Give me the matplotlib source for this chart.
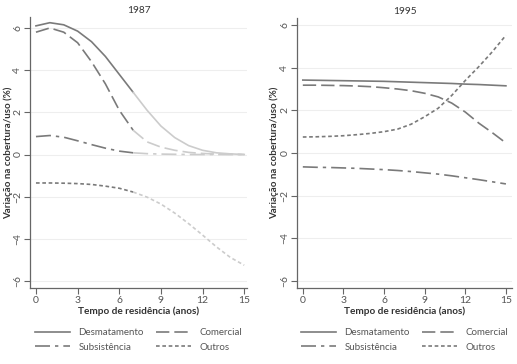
import numpy as np
import matplotlib
matplotlib.use('Agg')
from matplotlib import pyplot as plt

plt.rcParams['font.family'] = ['Lato', 'DejaVu Sans']

anos = [0, 1, 2, 3, 4, 5, 6, 7, 8, 9, 10, 11, 12, 13, 14, 15]

# 1987
desm_87 = [6.1, 6.25, 6.15, 5.85, 5.35, 4.65, 3.8, 2.95, 2.1, 1.35, 0.8, 0.42, 0.2, 0.08, 0.03, 0.0]
com_87 = [5.8, 6.0, 5.8, 5.3, 4.4, 3.35, 2.1, 1.15, 0.6, 0.35, 0.2, 0.1, 0.05, 0.02, 0.01, 0.0]
sub_87 = [0.85, 0.9, 0.82, 0.65, 0.47, 0.3, 0.16, 0.08, 0.04, 0.02, 0.01, 0.0, 0.0, 0.0, 0.0, 0.0]
out_87 = [-1.35, -1.35, -1.36, -1.38, -1.42, -1.5, -1.6, -1.78, -2.02, -2.35, -2.78, -3.28, -3.82, -4.38, -4.88, -5.25]

# 1995
desm_95 = [3.42, 3.41, 3.4, 3.39, 3.38, 3.37, 3.36, 3.34, 3.32, 3.3, 3.28, 3.26, 3.23, 3.21, 3.18, 3.15]
com_95 = [3.18, 3.18, 3.17, 3.16, 3.14, 3.11, 3.06, 3.0, 2.92, 2.8, 2.63, 2.34, 1.92, 1.4, 0.95, 0.47]
sub_95 = [-0.65, -0.67, -0.68, -0.7, -0.72, -0.75, -0.78, -0.82, -0.87, -0.93, -0.99, -1.07, -1.16, -1.25, -1.35, -1.45]
out_95 = [0.75, 0.76, 0.78, 0.81, 0.86, 0.92, 1.0, 1.12, 1.35, 1.7, 2.1, 2.7, 3.4, 4.05, 4.75, 5.52]

corte_87 = 7  # after this year the 1987 curves are drawn lighter

nomes = ['Desmatamento', 'Comercial', 'Subsistência', 'Outros']
estilos = ['-', (0, (8, 3)), (0, (9, 3, 2, 3)), (0, (2.2, 1.6))]
escuro = '#7a7a7a'
claro = '#cccccc'

fig = plt.figure(figsize=(5.17, 3.64), dpi=100)
ax1 = fig.add_axes([30/517, 1-288/364, 217/517, 271/364])
ax2 = fig.add_axes([297/517, 1-288/364, 215/517, 270/364])

def base(ax, titulo, ymax, xmax, ylab_x):
    ax.set_xlim(-0.43, xmax)
    ax.set_ylim(-6.33, ymax)
    ax.set_xticks([0, 3, 6, 9, 12, 15])
    ax.set_yticks([-6, -4, -2, 0, 2, 4, 6])
    ax.tick_params(axis='y', labelrotation=90, colors='#666666', labelcolor='#555555',
                   labelsize=7.5, length=4, width=0.8, pad=1.5)
    ax.tick_params(axis='x', colors='#666666', labelcolor='#555555',
                   labelsize=7.5, length=4, width=0.8, pad=2)
    for lab in ax.get_yticklabels():
        lab.set_va('center')
    for s in ['top', 'right']:
        ax.spines[s].set_visible(False)
    for s in ['left', 'bottom']:
        ax.spines[s].set_color('#666666')
        ax.spines[s].set_linewidth(0.9)
    ax.grid(axis='y', color='#eeeeee', linewidth=0.8)
    ax.set_axisbelow(True)
    ax.set_title(titulo, fontsize=7.3, color='#333333', pad=3)
    ax.set_xlabel('Tempo de residência (anos)', fontsize=7.2, fontweight='bold',
                  color='#333333', labelpad=1)
    ax.set_ylabel('Variação na cobertura/uso (%)', fontsize=7, fontweight='bold',
                  color='#333333')
    ax.yaxis.set_label_coords(ylab_x, 0.5)

base(ax1, '1987', 6.52, 15.2, -0.08)
base(ax2, '1995', 6.33, 15.45, -0.085)

x = np.array(anos)
for serie, ls in zip([desm_87, com_87, sub_87, out_87], estilos):
    y = np.array(serie)
    ax1.plot(x[:corte_87 + 1], y[:corte_87 + 1], color=escuro, lw=1.2, linestyle=ls)
    ax1.plot(x[corte_87:], y[corte_87:], color=claro, lw=1.2, linestyle=ls)

linhas = []
for serie, ls, nome in zip([desm_95, com_95, sub_95, out_95], estilos, nomes):
    l, = ax2.plot(x, serie, color=escuro, lw=1.2, linestyle=ls, label=nome)
    linhas.append(l)

# legend fills column-wise, so order gives rows: Desmatamento/Comercial, Subsistência/Outros
ordem = [0, 2, 1, 3]
for ax in (ax1, ax2):
    pos = ax.get_position()
    fig.legend([linhas[i] for i in ordem], [nomes[i] for i in ordem], ncol=2,
               frameon=False, fontsize=7, loc='center',
               bbox_to_anchor=((pos.x0 + pos.x1) / 2, 0.066),
               bbox_transform=fig.transFigure,
               handlelength=3.6, handletextpad=0.9, columnspacing=1.2,
               labelspacing=0.55, labelcolor='#555555', borderpad=0)

fig.savefig('out.png', dpi=100)
